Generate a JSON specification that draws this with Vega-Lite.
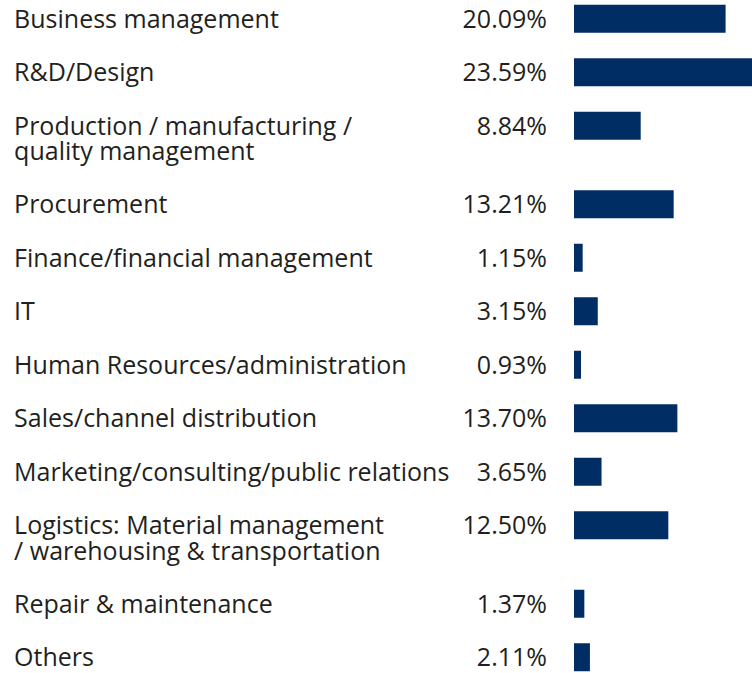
{
  "$schema": "https://vega.github.io/schema/vega-lite/v6.json",
  "padding": {"top": 4, "left": 0, "right": 0, "bottom": 0},
  "background": "white",
  "data": {"values": [
    {"order": 1, "category": "Business management", "lines": ["Business management"], "value": 0.2009},
    {"order": 2, "category": "R&D/Design", "lines": ["R&D/Design"], "value": 0.2359},
    {"order": 3, "category": "Production / manufacturing / quality management", "lines": ["Production / manufacturing /", "quality management"], "value": 0.0884},
    {"order": 4, "category": "Procurement", "lines": ["Procurement"], "value": 0.1321},
    {"order": 5, "category": "Finance/financial management", "lines": ["Finance/financial management"], "value": 0.0115},
    {"order": 6, "category": "IT", "lines": ["IT"], "value": 0.0315},
    {"order": 7, "category": "Human Resources/administration", "lines": ["Human Resources/administration"], "value": 0.0093},
    {"order": 8, "category": "Sales/channel distribution", "lines": ["Sales/channel distribution"], "value": 0.1370},
    {"order": 9, "category": "Marketing/consulting/public relations", "lines": ["Marketing/consulting/public relations"], "value": 0.0365},
    {"order": 10, "category": "Logistics: Material management / warehousing & transportation", "lines": ["Logistics: Material management", "/ warehousing & transportation"], "value": 0.1250},
    {"order": 11, "category": "Repair & maintenance", "lines": ["Repair & maintenance"], "value": 0.0137},
    {"order": 12, "category": "Others", "lines": ["Others"], "value": 0.0211}
  ]},
  "transform": [
    {"flatten": ["lines"], "as": ["line"]},
    {"window": [{"op": "row_number", "as": "lineNo"}], "groupby": ["category"]}
  ],
  "facet": {"row": {"field": "order", "type": "ordinal", "header": null}},
  "spacing": 27.5,
  "align": "each",
  "bounds": "flush",
  "resolve": {"scale": {"y": "independent"}},
  "spec": {
    "width": 752,
    "height": {"step": 25.5},
    "encoding": {
      "y": {"field": "lineNo", "type": "ordinal", "axis": null, "scale": {"paddingInner": 0, "paddingOuter": 0}}
    },
    "layer": [
      {
        "mark": {"type": "text", "align": "left", "baseline": "alphabetic", "dy": 9, "font": "Open Sans", "fontSize": 25, "color": "#231f20"},
        "encoding": {
          "x": {"datum": -0.742, "type": "quantitative", "scale": {"domain": [-0.7607, 0.2359], "nice": false, "zero": false}, "axis": null},
          "text": {"field": "line"}
        }
      },
      {
        "transform": [{"filter": "datum.lineNo === 1"}],
        "mark": {"type": "text", "align": "right", "baseline": "alphabetic", "dy": 9, "font": "Open Sans", "fontSize": 25, "color": "#231f20"},
        "encoding": {
          "x": {"datum": -0.0358, "type": "quantitative"},
          "text": {"field": "value", "type": "quantitative", "format": ".2%"}
        }
      },
      {
        "transform": [{"filter": "datum.lineNo === 1"}],
        "mark": {"type": "bar", "height": 28, "color": "#002d63"},
        "encoding": {
          "x": {"field": "value", "type": "quantitative"},
          "x2": {"datum": 0}
        }
      }
    ]
  },
  "config": {"view": {"stroke": null}}
}
